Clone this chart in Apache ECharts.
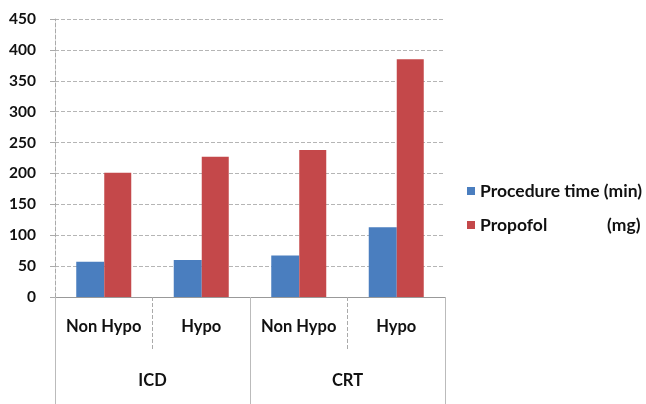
<!DOCTYPE html>
<html><head><meta charset="utf-8">
<script src="https://cdn.jsdelivr.net/npm/echarts@6/dist/echarts.min.js"></script>
<style>html,body{margin:0;padding:0;background:#fff}#c{width:646px;height:404px}</style>
</head><body><div id="c"></div>
<script>
var subCategories = ['Non Hypo', 'Hypo', 'Non Hypo', 'Hypo'];
var groups = ['ICD', 'CRT'];
var procedureTime = [57, 60, 67, 113];
var propofol = [201, 227, 238, 385];
var yTicks = {min: 0, max: 450, interval: 50};
var seriesNames = ['Procedure time (min)', 'Propofol (mg)'];

var chart = echarts.init(document.getElementById('c'));
var font = 'Lato, "Open Sans", sans-serif';
var lf = 17.5;
chart.setOption({
  animation: false,
  backgroundColor: '#fff',
  grid: {left: 55, right: 201, top: 19, bottom: 107},
  legend: {
    orient: 'vertical', left: 462, top: 177, itemGap: 16,
    itemWidth: 8, itemHeight: 8, icon: 'rect',
    data: seriesNames,
    formatter: function (n) { return n === 'Propofol (mg)' ? '{a|Propofol}{b|(mg)}' : '{b|' + n + '}'; },
    textStyle: {
      fontFamily: font, fontWeight: 'bold', fontSize: lf, color: '#111',
      rich: {
        a: {width: 127, fontFamily: font, fontWeight: 'bold', fontSize: lf, color: '#111'},
        b: {fontFamily: font, fontWeight: 'bold', fontSize: lf, color: '#111'}
      }
    }
  },
  xAxis: [{
    type: 'category', data: subCategories, position: 'bottom',
    axisLine: {lineStyle: {color: '#999', width: 1}},
    axisTick: {show: true, interval: 0, length: 53, lineStyle: {color: '#aaa', type: 'dashed'}},
    axisLabel: {interval: 0, margin: 21, fontFamily: font, fontWeight: 'bold', fontSize: 16.5, color: '#111'}
  }, {
    type: 'category', data: groups, position: 'bottom', gridIndex: 0,
    axisLine: {show: false},
    axisTick: {show: true, interval: 0, length: 107, lineStyle: {color: '#bbb'}},
    axisLabel: {interval: 0, margin: 75, fontFamily: font, fontWeight: 'bold', fontSize: 16.5, color: '#111'}
  }],
  yAxis: {
    type: 'value', min: yTicks.min, max: yTicks.max, interval: yTicks.interval,
    axisLine: {show: true, lineStyle: {color: '#aaa', type: 'dashed'}},
    axisTick: {show: true, length: 5, lineStyle: {color: '#aaa'}},
    axisLabel: {margin: 19, fontFamily: font, fontWeight: 'bold', fontSize: 15.5, color: '#111'},
    splitLine: {show: true, lineStyle: {color: '#b5b5b5', type: 'dashed'}}
  },
  series: [{
    name: seriesNames[0], type: 'bar', data: procedureTime, xAxisIndex: 0,
    barWidth: 28, barGap: '0%', itemStyle: {color: '#4a7ebf'}
  }, {
    name: seriesNames[1], type: 'bar', data: propofol, xAxisIndex: 0,
    barWidth: 27, barGap: '0%', itemStyle: {color: '#c4484a'}
  }]
});
</script></body></html>
